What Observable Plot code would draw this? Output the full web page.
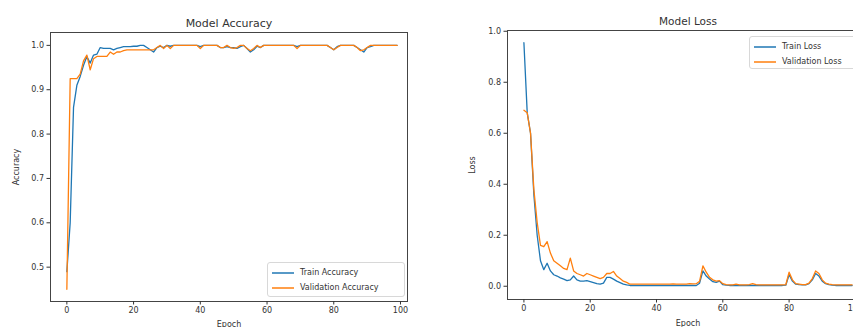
<!DOCTYPE html>
<html>
<head>
<meta charset="utf-8">
<script src="https://cdn.jsdelivr.net/npm/d3@7"></script>
<script src="https://cdn.jsdelivr.net/npm/@observablehq/plot@0.6"></script>
<style>
  html, body { margin: 0; padding: 0; background: #fff; }
  #wrap { position: relative; width: 853px; height: 327px; overflow: hidden; background: #fff; font-family: "DejaVu Sans", sans-serif; }
  .panel { position: absolute; top: 0; }
  .panel svg { max-width: none !important; }
  .legend { position: absolute; border: 1px solid #d8d8d8; border-radius: 3px; background: rgba(255,255,255,0.85); font-size: 8px; color: #333; padding: 2px 4px; box-sizing: border-box; }
  .legend .row { display: flex; align-items: center; height: 15px; white-space: nowrap; }
  .legend svg { margin-right: 6px; }
</style>
</head>
<body>
<div id="wrap">
  <div id="left" class="panel" style="left:0px; width:420px"></div>
  <div id="right" class="panel" style="left:430px; width:438px"></div>
</div>
<script>
// ---- data ----
const trainAcc = [0.49,0.60,0.86,0.91,0.93,0.955,0.975,0.960,0.978,0.980,
  0.995,0.993,0.993,0.993,0.990,0.993,0.995,0.997,0.997,0.997,
  0.998,0.998,1.000,1.000,0.995,0.990,0.985,0.995,0.998,0.995,
  1.000,0.998,1.000,1.000,1.000,1.000,1.000,1.000,1.000,1.000,
  0.997,1.000,1.000,1.000,1.000,1.000,0.995,0.995,0.997,0.995,
  0.995,0.993,0.997,1.000,0.993,0.985,0.990,0.998,0.995,1.000,
  1.000,1.000,1.000,1.000,1.000,1.000,1.000,1.000,1.000,0.997,
  1.000,1.000,1.000,1.000,1.000,1.000,1.000,1.000,1.000,0.995,
  0.990,0.997,1.000,1.000,1.000,1.000,1.000,0.995,0.990,0.985,
  0.995,0.997,1.000,1.000,1.000,1.000,1.000,1.000,1.000,1.000];
const valAcc = [0.45,0.925,0.925,0.925,0.935,0.965,0.978,0.945,0.970,0.975,
  0.975,0.975,0.975,0.985,0.980,0.985,0.985,0.988,0.990,0.990,
  0.990,0.990,0.990,0.990,0.990,0.990,0.990,0.995,1.000,0.993,
  1.000,0.993,1.000,1.000,1.000,1.000,1.000,1.000,1.000,1.000,
  0.993,1.000,1.000,1.000,1.000,1.000,0.995,0.995,1.000,0.995,
  0.993,0.995,1.000,1.000,0.993,0.988,0.993,1.000,0.995,1.000,
  1.000,1.000,1.000,1.000,1.000,1.000,1.000,1.000,1.000,0.993,
  1.000,1.000,1.000,1.000,1.000,1.000,1.000,1.000,1.000,0.995,
  0.990,0.995,1.000,1.000,1.000,1.000,1.000,0.995,0.988,0.990,
  0.995,1.000,1.000,1.000,1.000,1.000,1.000,1.000,1.000,1.000];
const trainLoss = [0.955,0.68,0.60,0.36,0.20,0.10,0.065,0.090,0.060,0.045,
  0.040,0.033,0.028,0.022,0.025,0.040,0.025,0.020,0.020,0.022,
  0.018,0.014,0.010,0.008,0.012,0.035,0.035,0.028,0.020,0.014,
  0.008,0.005,0.003,0.003,0.003,0.003,0.003,0.003,0.003,0.003,
  0.003,0.003,0.003,0.003,0.003,0.003,0.003,0.003,0.003,0.003,
  0.003,0.003,0.003,0.012,0.060,0.040,0.028,0.018,0.015,0.020,
  0.006,0.004,0.003,0.003,0.003,0.003,0.003,0.003,0.003,0.003,
  0.003,0.003,0.003,0.003,0.003,0.003,0.003,0.003,0.003,0.004,
  0.045,0.020,0.008,0.006,0.005,0.005,0.010,0.025,0.050,0.040,
  0.020,0.010,0.006,0.004,0.003,0.003,0.003,0.003,0.003,0.003];
const valLoss = [0.69,0.68,0.60,0.38,0.25,0.16,0.155,0.175,0.130,0.100,
  0.090,0.080,0.070,0.065,0.110,0.060,0.050,0.045,0.040,0.050,
  0.045,0.040,0.035,0.030,0.035,0.050,0.050,0.058,0.040,0.030,
  0.020,0.015,0.008,0.008,0.008,0.008,0.008,0.008,0.008,0.008,
  0.008,0.008,0.008,0.008,0.008,0.009,0.008,0.008,0.008,0.008,
  0.010,0.009,0.010,0.020,0.080,0.055,0.035,0.025,0.020,0.022,
  0.010,0.006,0.005,0.005,0.008,0.005,0.005,0.005,0.006,0.010,
  0.006,0.005,0.005,0.005,0.005,0.005,0.005,0.005,0.005,0.006,
  0.055,0.025,0.010,0.008,0.006,0.006,0.012,0.030,0.060,0.050,
  0.025,0.012,0.008,0.006,0.005,0.005,0.005,0.005,0.005,0.005];
const xTicks = [0, 20, 40, 60, 80, 100];
const accTicks = [0.5, 0.6, 0.7, 0.8, 0.9, 1.0];
const lossTicks = [0.0, 0.2, 0.4, 0.6, 0.8, 1.0];
const titles = ["Model Accuracy", "Model Loss"];
const accLegend = ["Train Accuracy", "Validation Accuracy"];
const lossLegend = ["Train Loss", "Validation Loss"];
const colors = ["#1f77b4", "#ff7f0e"];

const accRows = trainAcc.map((v, i) => ({epoch: i, train: v, val: valAcc[i]}));
const lossRows = trainLoss.map((v, i) => ({epoch: i, train: v, val: valLoss[i]}));
const fmt = d3.format(".1f");
const baseStyle = {fontFamily: "DejaVu Sans, sans-serif", fontSize: "8px", color: "#333", background: "transparent", overflow: "visible", maxWidth: "none"};

const left = Plot.plot({
  width: 420, height: 327,
  marginLeft: 50, marginRight: 13, marginTop: 32, marginBottom: 26,
  style: baseStyle,
  x: {domain: [-4.9, 102.1]},
  y: {domain: [0.4226, 1.029]},
  marks: [
    Plot.frame({stroke: "#444"}),
    Plot.axisX({ticks: xTicks, tickSize: 3.5, tickPadding: 2, label: "Epoch", labelAnchor: "center", labelArrow: "none", labelOffset: 25}),
    Plot.axisY({ticks: accTicks, tickFormat: fmt, tickSize: 3.5, tickPadding: 3, label: "Accuracy", labelAnchor: "center", labelArrow: "none", labelOffset: 37}),
    Plot.line(accRows, {x: "epoch", y: "train", stroke: colors[0], strokeWidth: 1.3}),
    Plot.line(accRows, {x: "epoch", y: "val", stroke: colors[1], strokeWidth: 1.3}),
    Plot.text([titles[0]], {frameAnchor: "top", dy: -6, fontSize: 11, fill: "#333", lineAnchor: "bottom"})
  ]
});
document.getElementById("left").appendChild(left);

const right = Plot.plot({
  width: 438, height: 327,
  marginLeft: 77, marginRight: 0, marginTop: 30, marginBottom: 28,
  style: baseStyle,
  x: {domain: [-4.95, 103.95]},
  y: {domain: [-0.052, 1.003]},
  marks: [
    Plot.frame({stroke: "#444"}),
    Plot.axisX({ticks: xTicks, tickSize: 3.5, tickPadding: 2, label: "Epoch", labelAnchor: "center", labelArrow: "none", labelOffset: 26}),
    Plot.axisY({ticks: lossTicks, tickFormat: fmt, tickSize: 3.5, tickPadding: 3, label: "Loss", labelAnchor: "center", labelArrow: "none", labelOffset: 38}),
    Plot.line(lossRows, {x: "epoch", y: "train", stroke: colors[0], strokeWidth: 1.3}),
    Plot.line(lossRows, {x: "epoch", y: "val", stroke: colors[1], strokeWidth: 1.3}),
    Plot.text([titles[1]], {frameAnchor: "top", dy: -6, fontSize: 10.5, fill: "#333", lineAnchor: "bottom"})
  ]
});
document.getElementById("right").appendChild(right);

function legend(labels, style) {
  const div = document.createElement("div");
  div.className = "legend";
  Object.assign(div.style, style);
  labels.forEach((t, i) => {
    const row = document.createElement("div");
    row.className = "row";
    row.innerHTML = `<svg width="22" height="6"><line x1="0" x2="22" y1="3" y2="3" stroke="${colors[i]}" stroke-width="1.5"/></svg><span>${t}</span>`;
    div.appendChild(row);
  });
  document.getElementById("wrap").appendChild(div);
}
legend(accLegend, {left: "267px", top: "262px", width: "138px", height: "35px"});
legend(lossLegend, {left: "749px", top: "36px", width: "115px", height: "33px"});
</script>
</body>
</html>
